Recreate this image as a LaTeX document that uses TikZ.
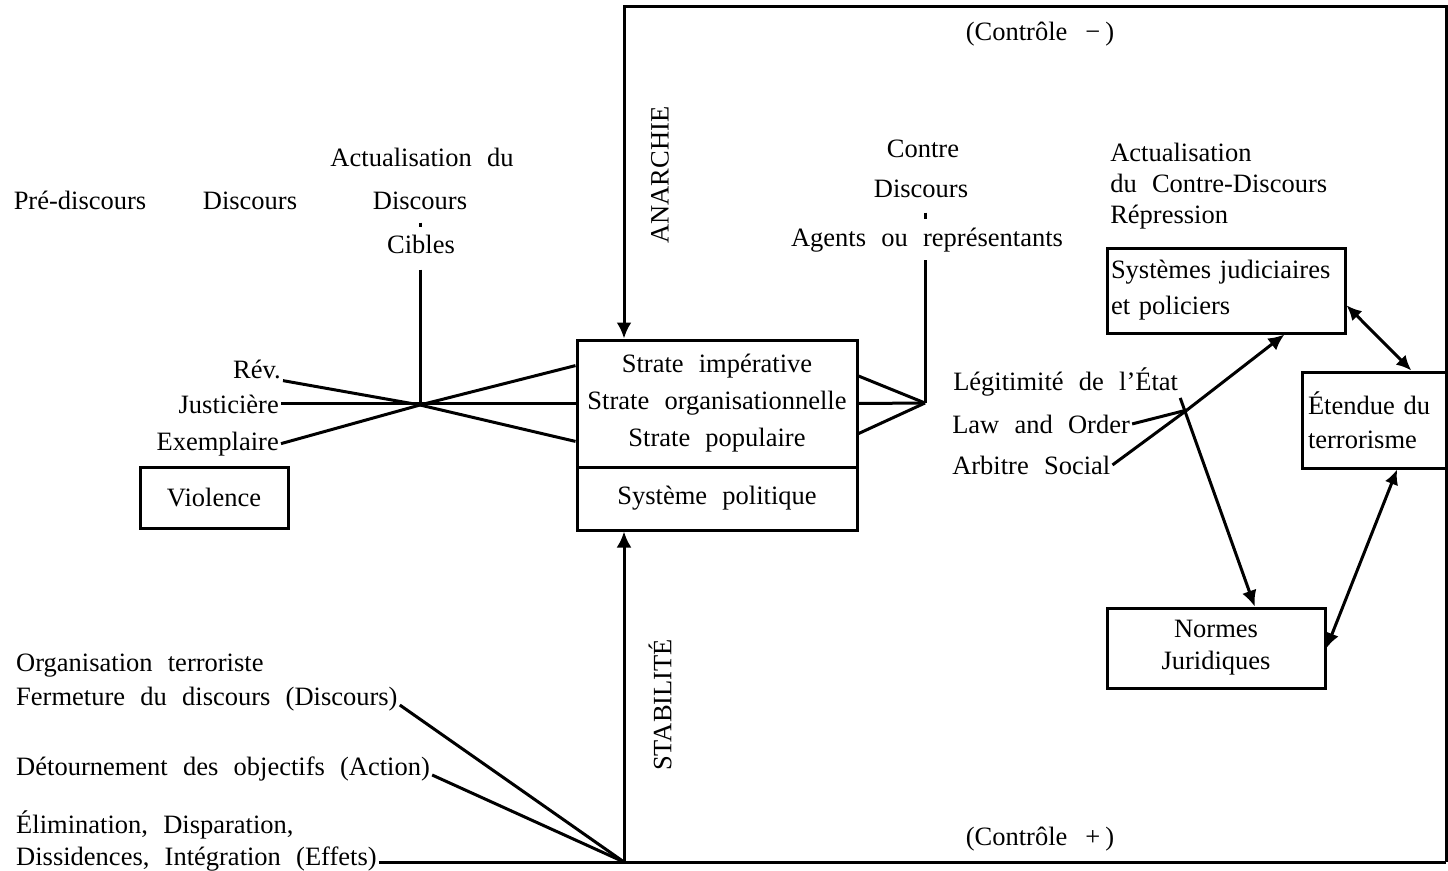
\documentclass[tikz,border=0pt]{standalone}
\usepackage{fontspec}
\setmainfont{Liberation Serif}[WordSpace=2.3]
\usetikzlibrary{arrows.meta}

\tikzset{every picture/.style={line width=3pt}}
\tikzset{
  box/.style={draw, align=center},
  fleche/.style={-{Latex[length=16pt,width=15pt]}},
  dfleche/.style={{Latex[length=15pt,width=14pt]}-{Latex[length=15pt,width=14pt]}},
}

\begin{document}
\begin{tikzpicture}[x=1pt,y=1pt,yscale=-1,xscale=1,
  every node/.style={font=\fontsize{26.5}{32}\selectfont, inner sep=0.75pt}]
\useasboundingbox (0,0) rectangle (1448,870);

%Shape: Rectangle
\draw (717,403.5) node [box, minimum width=280pt, minimum height=127pt, font=\fontsize{26.5}{37}\selectfont] (strates) {Strate impérative\\Strate organisationnelle\\Strate populaire};
%Shape: Rectangle
\draw (717,498.5) node [box, minimum width=280pt, minimum height=63pt] (syspol) {Système politique};
%Shape: Rectangle
\draw (214,497.5) node [box, minimum width=148pt, minimum height=61pt] (violence) {Violence};
%Shape: Rectangle
\draw (1226,290.5) node [box, align=left, text width=230pt, inner sep=4pt, minimum height=85pt, font=\fontsize{26.5}{36}\selectfont] (systemes) {Systèmes judiciaires\\et policiers};
%Shape: Rectangle
\draw (1374,420) node [box, align=left, text width=132pt, inner sep=6pt, minimum height=96pt, font=\fontsize{26.5}{34}\selectfont] (etendue) {Étendue du\\terrorisme};
%Shape: Rectangle
\draw (1216,648) node [box, minimum width=218pt, minimum height=80pt] (normes) {Normes\\Juridiques};

% Text Node
\draw (80,209) node [anchor=base] (prediscours) {Pré-discours};
% Text Node
\draw (250,209) node [anchor=base] (discours) {Discours};
% Text Node
\draw (422,166) node [anchor=base] (actu) {Actualisation du};
% Text Node
\draw (420,209) node [anchor=base] (actudisc) {Discours};
% Text Node
\draw (421,253) node [anchor=base] (cibles) {Cibles};
% Text Node
\draw (923,157) node [anchor=base] (contre) {Contre};
% Text Node
\draw (921,197) node [anchor=base] (contdisc) {Discours};
% Text Node
\draw (927,246) node [anchor=base] (agents) {Agents ou représentants};
% Text Node
\draw (660,175) node [rotate=90] (anarchie) {ANARCHIE};
% Text Node
\draw (660,705) node [rotate=90] (stabilite) {STABILITÉ};
% Text Node
\draw (283,378) node [anchor=base east] (rev) {Rév.};
% Text Node
\draw (281,413) node [anchor=base east] (justi) {Justicière};
% Text Node
\draw (281,450) node [anchor=base east] (exemp) {Exemplaire};
% Text Node
\draw (1040,40) node [anchor=base] (ctrlmoins) {(Contrôle\hspace{18pt}−\hspace{5pt})};
% Text Node
\draw (1040,845) node [anchor=base] (ctrlplus) {(Contrôle\hspace{18pt}+\hspace{5pt})};
% Text Node
\draw (1108,186) node [anchor=west, align=left, font=\fontsize{26.5}{31}\selectfont] (actucontre) {Actualisation\\du Contre-Discours\\Répression};
% Text Node
\draw (951,390) node [anchor=base west] (legit) {Légitimité de l’État};
% Text Node
\draw (950,433) node [anchor=base west] (law) {Law and Order};
% Text Node
\draw (950,474) node [anchor=base west] (arbitre) {Arbitre Social};
% Text Node
\draw (14,671) node [anchor=base west] (orga) {Organisation terroriste};
% Text Node
\draw (14,705) node [anchor=base west] (ferm) {Fermeture du discours (Discours)};
% Text Node
\draw (14,775) node [anchor=base west] (detour) {Détournement des objectifs (Action)};
% Text Node
\draw (14,833) node [anchor=base west] (elim) {Élimination, Disparation,};
% Text Node
\draw (14,865) node [anchor=base west] (dissid) {Dissidences, Intégration (Effets)};

\coordinate (hautG) at (624,6);
\coordinate (basG) at (624,862);
\coordinate (hautD) at (1446,6);
\coordinate (basD) at (1446,862);
\coordinate (croix) at (420,405);
\coordinate (jonction) at (925,403);
\coordinate (noeud) at (1187,410);

%Straight Lines
\draw [fleche] (basD) -- (hautD) -- (hautG) -- (hautG |- strates.north);
\draw [fleche] (basG) -- (basG |- syspol.south);
\draw (dissid.east |- basG) -- (basD);
\draw (ferm.base east) -- (basG);
\draw (detour.base east) -- (basG);

%Straight Lines
\draw [shorten <=14pt] (croix |- cibles.south) -- (croix);
\draw [shorten <=11pt, shorten >=5pt] (croix |- actudisc.south) -- (croix |- cibles.north);
\draw (rev.south east) -- (croix) -- (strates.195);
\draw (justi.east) -- (justi.east -| strates.west);
\draw (exemp.east) -- (croix) -- (strates.165);

%Straight Lines
\draw (strates.11) -- (jonction);
\draw (strates.east) -- (jonction);
\draw (strates.-12) -- (jonction);
\draw [shorten >=6pt] (jonction) -- (jonction |- agents.south);
\draw [shorten <=13pt, shorten >=6pt] (jonction |- contdisc.south) -- (jonction |- agents.north);

%Straight Lines
\draw (law.east) -- (noeud);
\draw (arbitre.east) -- (noeud);
\draw [fleche] (noeud) -- (systemes.-37);
\draw [fleche] (legit.south east) -- (normes.47);
\draw [dfleche] (systemes.-7) -- (etendue.53);
\draw [dfleche] (etendue.-65) -- (normes.east);

\end{tikzpicture}
\end{document}
